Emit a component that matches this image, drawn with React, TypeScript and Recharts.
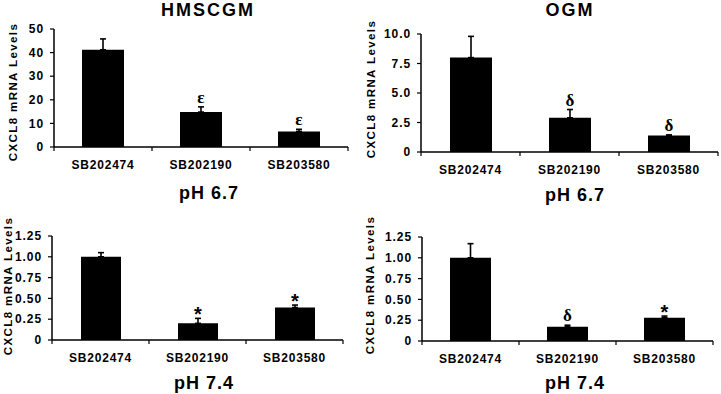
import React from 'react';
import { BarChart, Bar, XAxis, YAxis, ErrorBar, LabelList } from 'recharts';

const categories = ['SB202474', 'SB202190', 'SB203580'];

const hmscgm67 = [41.2, 14.8, 6.6];
const hmscgm67Err = [4.6, 2.2, 0.9];
const hmscgm67Marks = ['', 'ε', 'ε'];

const ogm67 = [8.0, 2.9, 1.4];
const ogm67Err = [1.8, 0.7, 0.05];
const ogm67Marks = ['', 'δ', 'δ'];

const hmscgm74 = [1.0, 0.2, 0.39];
const hmscgm74Err = [0.05, 0.06, 0.03];
const hmscgm74Marks = ['', '*', '*'];

const ogm74 = [1.0, 0.17, 0.28];
const ogm74Err = [0.17, 0.02, 0.02];
const ogm74Marks = ['', 'δ', '*'];

const ticks50 = [0, 10, 20, 30, 40, 50];
const ticks10 = [0, 2.5, 5, 7.5, 10];
const ticks125 = [0, 0.25, 0.5, 0.75, 1, 1.25];

const FONT = '"Liberation Sans", Arial, sans-serif';
const SERIF = '"Liberation Serif", "Times New Roman", serif';
const Y_LABEL = 'CXCL8 mRNA Levels';

function build(values: number[], errs: number[], marks: string[]) {
  return categories.map((name, i) => ({
    name,
    value: values[i],
    err: [0, errs[i]],
    up: errs[i],
    mark: marks[i],
  }));
}

// category label plus the small boundary ticks between groups
const CatTick = (props: any) => {
  const { x, y, payload, index, visibleTicksCount } = props;
  const half = payload?.offset ?? 0;
  return (
    <g>
      <line x1={x - half} x2={x - half} y1={y} y2={y + 4} stroke="#000" strokeWidth={1.2} />
      {index === visibleTicksCount - 1 && (
        <line x1={x + half} x2={x + half} y1={y} y2={y + 4} stroke="#000" strokeWidth={1.2} />
      )}
      <text
        x={x}
        y={y + 13}
        dy="0.71em"
        textAnchor="middle"
        fill="#000"
        style={{ fontFamily: FONT, fontWeight: 700, fontSize: 12, letterSpacing: 0.8 }}
      >
        {payload.value}
      </text>
    </g>
  );
};

// significance mark sitting just above the error bar
function markLabel(data: any[]) {
  return (props: any) => {
    const vb = props.viewBox ?? props;
    const row = data[props.index];
    if (!row || !row.mark) return null;
    const h = Math.abs(vb.height);
    const top = Math.min(vb.y, vb.y + vb.height);
    const errPx = row.value ? (h * row.up) / row.value : 0;
    const star = row.mark === '*';
    return (
      <text
        x={vb.x + vb.width / 2}
        y={top - errPx - (star ? -3 : 4)}
        textAnchor="middle"
        fill="#000"
        style={{
          fontFamily: star ? FONT : SERIF,
          fontWeight: 700,
          fontSize: star ? 20 : 17,
        }}
      >
        {row.mark}
      </text>
    );
  };
}

interface PanelProps {
  left: number;
  top: number;
  height: number;
  plotLeft: number;
  plotRight: number;
  plotTop: number;
  plotBottom: number;
  domain: [number, number];
  ticks: number[];
  fmt: (v: number) => string;
  barSize: number;
  data: any[];
  title?: string;
  titleX?: number;
  ph: string;
  phX: number;
  phY: number;
  labelX: number;
  labelY: number;
}

function Panel(p: PanelProps) {
  const W = 360;
  const yW = 40;
  const xH = 30;
  return (
    <div style={{ position: 'absolute', left: p.left, top: p.top, width: W, height: p.height }}>
      <BarChart
        width={W}
        height={p.height}
        data={p.data}
        margin={{
          top: p.plotTop,
          left: p.plotLeft - yW,
          right: W - p.plotRight,
          bottom: p.height - p.plotBottom - xH,
        }}
      >
        <XAxis
          dataKey="name"
          height={xH}
          axisLine={{ stroke: '#000', strokeWidth: 1.5 }}
          tickLine={false}
          tickSize={0}
          tickMargin={0}
          tick={<CatTick />}
          interval={0}
        />
        <YAxis
          width={yW}
          domain={p.domain}
          ticks={p.ticks}
          interval={0}
          tickFormatter={p.fmt}
          axisLine={{ stroke: '#000', strokeWidth: 1.5 }}
          tickLine={{ stroke: '#000', strokeWidth: 1.2 }}
          tickSize={4}
          tickMargin={6}
          tick={{ fill: '#000', fontFamily: FONT, fontWeight: 700, fontSize: 12, letterSpacing: 0.9 }}
        />
        <Bar dataKey="value" fill="#000" barSize={p.barSize} isAnimationActive={false}>
          <ErrorBar dataKey="err" direction="y" width={3} stroke="#000" strokeWidth={1.6} />
          <LabelList dataKey="mark" content={markLabel(p.data)} />
        </Bar>
      </BarChart>
      {p.title && (
        <div
          style={{
            position: 'absolute',
            left: (p.titleX ?? 0) - 100,
            width: 200,
            top: 1,
            textAlign: 'center',
            fontFamily: FONT,
            fontWeight: 700,
            fontSize: 18,
            lineHeight: '18px',
            letterSpacing: 2,
          }}
        >
          {p.title}
        </div>
      )}
      <div
        style={{
          position: 'absolute',
          left: p.phX - 100,
          width: 200,
          top: p.phY,
          textAlign: 'center',
          fontFamily: FONT,
          fontWeight: 700,
          fontSize: 18,
          lineHeight: '18px',
          letterSpacing: 1,
        }}
      >
        {p.ph}
      </div>
      <div
        style={{
          position: 'absolute',
          left: p.labelX - 100,
          top: p.labelY - 8,
          width: 200,
          height: 16,
          lineHeight: '16px',
          textAlign: 'center',
          transform: 'rotate(-90deg)',
          fontFamily: FONT,
          fontWeight: 700,
          fontSize: 11.5,
          letterSpacing: 1.4,
          whiteSpace: 'nowrap',
        }}
      >
        {Y_LABEL}
      </div>
    </div>
  );
}

const fmtInt = (v: number) => String(v);
const fmtOne = (v: number) => (v === 0 ? '0' : v.toFixed(1));
const fmtTwo = (v: number) => (v === 0 ? '0' : v.toFixed(2));

export default function App() {
  return (
    <div style={{ position: 'absolute', left: 0, top: 0, width: 721, height: 394, background: '#fff', overflow: 'hidden' }}>
      <Panel
        left={0} top={0} height={200}
        plotLeft={54} plotRight={348} plotTop={29} plotBottom={147}
        domain={[0, 50]} ticks={ticks50} fmt={fmtInt} barSize={42}
        data={build(hmscgm67, hmscgm67Err, hmscgm67Marks)}
        title="HMSCGM" titleX={208}
        ph="pH 6.7" phX={209} phY={184}
        labelX={13} labelY={92}
      />
      <Panel
        left={360} top={0} height={200}
        plotLeft={61} plotRight={358} plotTop={34} plotBottom={152}
        domain={[0, 10]} ticks={ticks10} fmt={fmtOne} barSize={42}
        data={build(ogm67, ogm67Err, ogm67Marks)}
        title="OGM" titleX={210}
        ph="pH 6.7" phX={215} phY={186}
        labelX={11} labelY={89}
      />
      <Panel
        left={0} top={195} height={199}
        plotLeft={52} plotRight={343} plotTop={41} plotBottom={145}
        domain={[0, 1.25]} ticks={ticks125} fmt={fmtTwo} barSize={40}
        data={build(hmscgm74, hmscgm74Err, hmscgm74Marks)}
        ph="pH 7.4" phX={204} phY={179}
        labelX={8} labelY={91}
      />
      <Panel
        left={360} top={195} height={199}
        plotLeft={62} plotRight={353} plotTop={42} plotBottom={146}
        domain={[0, 1.25]} ticks={ticks125} fmt={fmtTwo} barSize={41}
        data={build(ogm74, ogm74Err, ogm74Marks)}
        ph="pH 7.4" phX={215} phY={179}
        labelX={10} labelY={90}
      />
    </div>
  );
}
